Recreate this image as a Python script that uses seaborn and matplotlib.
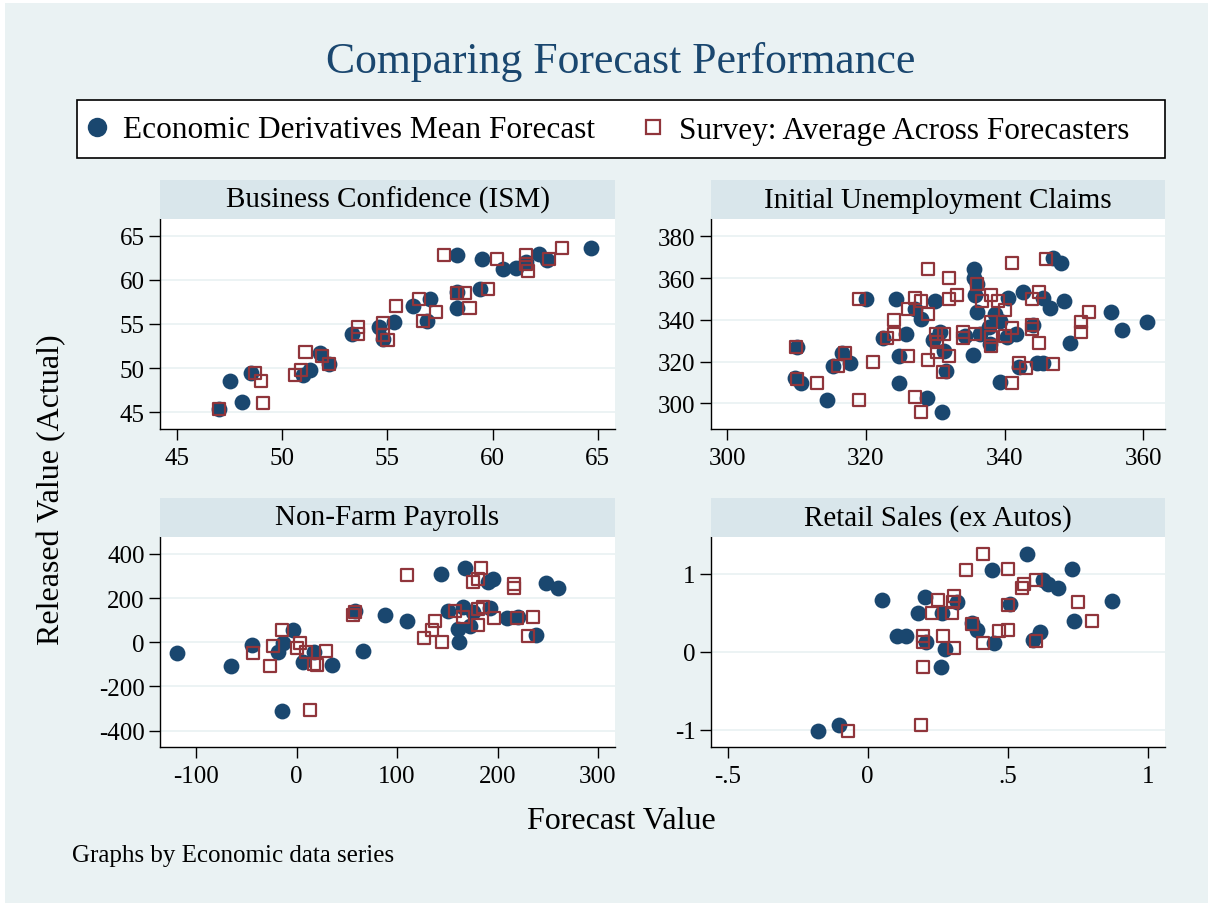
import pandas as pd
import seaborn as sns
import matplotlib.pyplot as plt
from matplotlib.patches import Rectangle
from matplotlib.lines import Line2D
from matplotlib.ticker import FixedLocator, FixedFormatter

# colours (Stata s2color-ish)
BG = "#EAF2F3"
STRIP = "#D9E6EB"
BLUE = "#1A476F"
RED = "#90353B"

# ---- data ----
# Business Confidence (ISM)
bc_edmf_x = [47.0, 47.5, 48.1, 48.5, 51.0, 51.3, 51.8, 52.2, 53.3, 54.6, 54.8, 55.3, 56.2,
             57.0, 56.9, 58.3, 58.3, 58.3, 59.4, 59.5, 60.5, 61.1, 61.6, 62.2, 62.6, 64.7]
bc_edmf_y = [45.4, 48.5, 46.2, 49.5, 49.2, 49.8, 51.7, 50.5, 53.9, 54.7, 53.3, 55.2, 57.0,
             57.8, 55.3, 56.8, 58.6, 62.8, 59.0, 62.4, 61.2, 61.3, 62.0, 62.9, 62.3, 63.6]
bc_surv_x = [47.0, 48.7, 49.0, 49.1, 50.6, 50.9, 51.1, 51.9, 52.2, 53.6, 53.6, 54.8, 54.8,
             55.0, 55.4, 56.5, 56.7, 57.3, 57.7, 58.3, 58.7, 58.9, 59.8, 60.2, 61.6, 61.6,
             61.7, 62.7, 63.3]
bc_surv_y = [45.4, 49.4, 48.5, 46.1, 49.2, 49.8, 51.8, 51.4, 50.5, 54.7, 53.9, 55.1, 53.7,
             53.2, 57.0, 57.8, 55.3, 56.4, 62.8, 58.5, 58.5, 56.8, 59.0, 62.4, 62.8, 61.8,
             61.0, 62.4, 63.6]

# Initial Unemployment Claims
uc_edmf_x = [310.1, 309.8, 310.6, 314.4, 315.3, 316.5, 317.7, 320.0, 322.5, 324.4, 324.8,
             324.7, 325.8, 327.1, 328.0, 328.8, 330.0, 329.6, 330.7, 331.2, 331.6, 331.0,
             335.6, 335.6, 336.0, 335.7, 336.0, 335.5, 334.3, 336.5, 337.8, 337.9, 338.6,
             339.3, 340.5, 340.3, 341.6, 342.6, 342.1, 344.1, 344.7, 345.6, 345.6, 346.5,
             347.0, 348.1, 348.5, 349.4, 355.4, 357.0, 360.6, 339.3]
uc_edmf_y = [326.8, 312.0, 309.8, 301.8, 318.1, 324.1, 319.3, 350.0, 331.2, 350.0, 322.9,
             309.8, 333.2, 345.2, 340.4, 302.4, 349.2, 330.5, 334.0, 325.3, 315.7, 295.7,
             364.4, 359.9, 357.2, 351.9, 343.9, 323.2, 332.4, 333.2, 336.4, 328.4, 342.8,
             339.6, 350.3, 331.6, 333.2, 353.5, 317.3, 337.5, 319.3, 319.3, 350.3, 345.5,
             369.5, 367.2, 349.2, 328.9, 343.9, 335.3, 339.1, 310.1]
uc_surv_x = [309.9, 310.0, 313.0, 315.9, 317.0, 319.0, 319.0, 321.0, 323.0, 324.1, 324.1,
             326.0, 326.1, 327.1, 327.9, 329.0, 329.0, 327.1, 327.9, 329.0, 330.1, 331.2,
             330.2, 330.2, 332.0, 331.1, 332.0, 333.1, 332.0, 334.0, 334.0, 336.0, 335.7,
             336.8, 338.0, 338.0, 338.0, 338.0, 339.0, 340.0, 340.0, 341.0, 341.0, 342.1,
             343.1, 344.0, 344.0, 344.0, 345.0, 345.0, 346.0, 347.0, 341.0, 351.0, 351.0,
             352.1]
uc_surv_y = [326.8, 311.7, 309.8, 317.8, 324.0, 350.0, 301.6, 319.7, 331.2, 333.2, 339.9,
             345.2, 322.9, 350.5, 349.2, 342.8, 364.4, 302.9, 295.7, 320.8, 333.2, 333.2,
             329.6, 324.8, 322.9, 315.2, 350.0, 351.9, 359.9, 334.0, 331.2, 357.2, 333.2,
             349.2, 351.9, 338.8, 331.6, 327.6, 349.2, 344.9, 332.1, 367.2, 336.0, 319.3,
             316.8, 350.0, 337.5, 335.6, 353.2, 328.9, 369.1, 318.9, 309.8, 338.8, 334.3,
             343.9]

# Non-Farm Payrolls
nf_edmf_x = [-118.8, -65.4, -44.1, -18.3, -13.9, -3.3, -14.6, 6.6, 17.3, 35.5, 58.1, 66.4,
             88.0, 109.5, 143.7, 151.0, 161.0, 162.0, 166.0, 167.6, 172.6, 175.9, 190.9,
             195.2, 192.5, 209.1, 220.7, 238.3, 248.3, 260.6]
nf_edmf_y = [-48.3, -108.7, -12.1, -45.3, -3.0, 57.4, -309.4, -90.6, -45.3, -101.1, 143.4,
             -40.8, 123.8, 96.6, 309.4, 143.4, 60.4, 0.0, 158.5, 336.6, 75.5, 135.8, 271.7,
             286.8, 154.0, 110.2, 113.2, 33.2, 267.2, 246.0]
nf_surv_x = [-43.2, -26.2, -23.2, -14.9, 3.3, 0.7, 9.3, 17.3, 19.9, 28.9, 13.3, 56.4, 58.1,
             109.5, 127.1, 134.4, 137.8, 144.4, 157.7, 166.0, 175.3, 180.9, 183.6, 180.9,
             180.9, 185.2, 196.8, 216.8, 216.8, 219.1, 235.7, 230.7]
nf_surv_y = [-48.3, -108.7, -18.1, 57.4, -3.0, -27.2, -45.3, -98.1, -102.6, -40.8, -307.9,
             123.8, 138.9, 306.4, 19.6, 57.4, 96.6, 0.0, 143.4, 113.2, 274.7, 286.8, 336.6,
             78.5, 150.9, 158.5, 110.2, 264.2, 244.5, 110.2, 113.2, 30.2]

# Retail Sales (ex Autos)
rs_edmf_x = [-0.178, -0.102, 0.050, 0.103, 0.136, 0.205, 0.181, 0.208, 0.261, 0.266, 0.276,
             0.318, 0.371, 0.389, 0.445, 0.452, 0.508, 0.570, 0.589, 0.615, 0.627, 0.645,
             0.680, 0.730, 0.738, 0.873]
rs_edmf_y = [-1.015, -0.938, 0.664, 0.206, 0.206, 0.707, 0.497, 0.120, -0.193, 0.497, 0.034,
             0.634, 0.368, 0.283, 1.054, 0.111, 0.612, 1.255, 0.150, 0.257, 0.925, 0.869,
             0.814, 1.062, 0.398, 0.647]
rs_surv_x = [-0.069, 0.190, 0.199, 0.199, 0.199, 0.250, 0.228, 0.270, 0.309, 0.300, 0.303,
             0.309, 0.350, 0.371, 0.410, 0.410, 0.470, 0.500, 0.500, 0.502, 0.550, 0.559,
             0.601, 0.601, 0.749, 0.799]
rs_surv_y = [-1.015, -0.942, -0.201, 0.206, 0.120, 0.668, 0.497, 0.197, 0.043, 0.497, 0.642,
             0.711, 1.054, 0.355, 1.255, 0.111, 0.261, 1.062, 0.604, 0.283, 0.814, 0.869,
             0.925, 0.141, 0.642, 0.390]

titles = ["Business Confidence (ISM)", "Initial Unemployment Claims",
          "Non-Farm Payrolls", "Retail Sales (ex Autos)"]
edmf = [(bc_edmf_x, bc_edmf_y), (uc_edmf_x, uc_edmf_y), (nf_edmf_x, nf_edmf_y), (rs_edmf_x, rs_edmf_y)]
surv = [(bc_surv_x, bc_surv_y), (uc_surv_x, uc_surv_y), (nf_surv_x, nf_surv_y), (rs_surv_x, rs_surv_y)]

xticks = [[45, 50, 55, 60, 65], [300, 320, 340, 360], [-100, 0, 100, 200, 300], [-0.5, 0, 0.5, 1]]
xticklabels = [["45", "50", "55", "60", "65"], ["300", "320", "340", "360"],
               ["-100", "0", "100", "200", "300"], ["-.5", "0", ".5", "1"]]
yticks = [[45, 50, 55, 60, 65], [300, 320, 340, 360, 380], [-400, -200, 0, 200, 400], [-1, 0, 1]]
yticklabels = [["45", "50", "55", "60", "65"], ["300", "320", "340", "360", "380"],
               ["-400", "-200", "0", "200", "400"], ["-1", "0", "1"]]
xlims = [(44.18, 65.82), (297.65, 363.13), (-136.1, 317.0), (-0.559, 1.061)]
ylims = [(43.11, 66.89), (287.7, 388.3), (-474.1, 476.9), (-1.224, 1.473)]

sns.set_style("white")
plt.rcParams['font.family'] = ['Liberation Serif', 'DejaVu Serif']
plt.rcParams['axes.unicode_minus'] = False
plt.rcParams['text.color'] = "black"
plt.rcParams['xtick.color'] = "black"
plt.rcParams['ytick.color'] = "black"
plt.rcParams['axes.labelcolor'] = "black"

W, H = 1209, 904
fig = plt.figure(figsize=(W / 100, H / 100), dpi=100, facecolor="white")
fig.add_artist(Rectangle((5 / W, 0), 1203 / W, 1 - 4 / H, transform=fig.transFigure,
                         facecolor=BG, edgecolor="none", zorder=0))

# panel boxes in pixels: left, right, top, bottom
cols = [(160, 615), (711, 1165)]
rows = [(220, 430), (538, 748)]
strip_h = 39

for i in range(4):
    l, r = cols[i % 2]
    t, b = rows[i // 2]
    ax = fig.add_axes([l / W, 1 - b / H, (r - l) / W, (b - t) / H])
    ax.set_facecolor("white")
    sns.scatterplot(x=edmf[i][0], y=edmf[i][1], ax=ax, color=BLUE, marker="o", s=130,
                    linewidth=0, legend=False, zorder=3)
    sns.scatterplot(x=surv[i][0], y=surv[i][1], ax=ax, marker="s", s=75, facecolor="none",
                    edgecolor=RED, linewidth=1.6, legend=False, zorder=4)
    ax.set_xlim(xlims[i])
    ax.set_ylim(ylims[i])
    ax.xaxis.set_major_locator(FixedLocator(xticks[i]))
    ax.xaxis.set_major_formatter(FixedFormatter(xticklabels[i]))
    ax.yaxis.set_major_locator(FixedLocator(yticks[i]))
    ax.yaxis.set_major_formatter(FixedFormatter(yticklabels[i]))
    ax.grid(axis="y", color=BG, linewidth=1.3, zorder=1)
    ax.set_axisbelow(True)
    for side in ["top", "right"]:
        ax.spines[side].set_visible(False)
    for side in ["left", "bottom"]:
        ax.spines[side].set_color("black")
        ax.spines[side].set_linewidth(1.0)
    ax.tick_params(direction="out", length=8, width=1.0, color="black", labelcolor="black",
                   labelsize=18, left=True, bottom=True)
    ax.tick_params(axis="y", pad=3)
    ax.tick_params(axis="x", pad=5)
    # header strip
    fig.add_artist(Rectangle((l / W, 1 - t / H), (r - l) / W, strip_h / H,
                             transform=fig.transFigure, facecolor=STRIP, edgecolor="none"))
    fig.text((l + r) / 2 / W, 1 - (t - strip_h / 2) / H, titles[i], ha="center", va="center",
             fontsize=21, color="black")

fig.text(621 / W, 1 - 62 / H, "Comparing Forecast Performance", ha="center", va="center",
         fontsize=31.5, color=BLUE)

# legend box
fig.add_artist(Rectangle((77 / W, 1 - 159 / H), 1088 / W, 58 / H, transform=fig.transFigure,
                         facecolor="white", edgecolor="black", linewidth=1.2))
handles = [Line2D([], [], linestyle="", marker="o", markersize=14, color=BLUE, markeredgewidth=0),
           Line2D([], [], linestyle="", marker="s", markersize=9.5, markerfacecolor="none",
                  markeredgecolor=RED, markeredgewidth=1.6)]
labels = ["Economic Derivatives Mean Forecast", "Survey: Average Across Forecasters"]
fig.legend(handles, labels, loc="center left", bbox_to_anchor=(85 / W, 1 - 131 / H),
           ncol=2, frameon=False, fontsize=22.5, handlelength=0.78, handletextpad=0.45,
           columnspacing=1.45, borderpad=0, borderaxespad=0, labelcolor="black")

fig.text(52 / W, 1 - 490 / H, "Released Value (Actual)", rotation=90, ha="center",
         va="center", fontsize=23, color="black")
fig.text(621 / W, 1 - 822 / H, "Forecast Value", ha="center", va="center", fontsize=23,
         color="black")
fig.text(72 / W, 1 - 856 / H, "Graphs by Economic data series", ha="left", va="center",
         fontsize=18, color="black")

fig.savefig("out.png", dpi=100, facecolor="white")
